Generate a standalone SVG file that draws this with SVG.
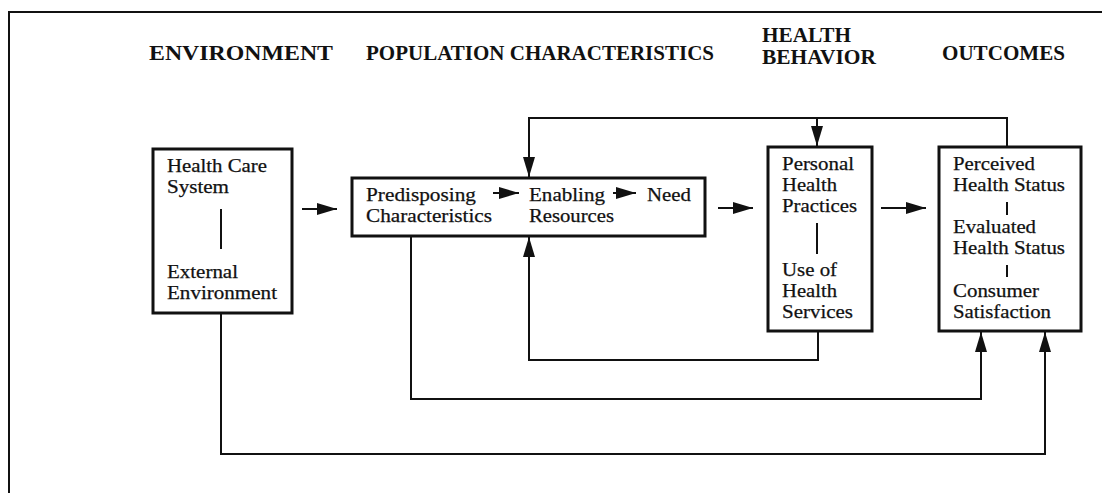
<svg xmlns="http://www.w3.org/2000/svg" width="1102" height="493" viewBox="0 0 1102 493">
<style>
.hd{font-family:"Liberation Serif","Times New Roman",serif;font-weight:bold;font-size:21px;fill:#111}
.tx{font-family:"Liberation Serif","Times New Roman",serif;font-size:18.5px;fill:#111;stroke:#111;stroke-width:0.25}
.box{fill:#fff;stroke:#111;stroke-width:3}
.ln{fill:none;stroke:#111;stroke-width:2}
.sep{fill:none;stroke:#111;stroke-width:2}
</style>
<defs>
<marker id="ah" markerUnits="userSpaceOnUse" markerWidth="20" markerHeight="12" refX="20" refY="6" orient="auto"><path d="M0,0 L20,6 L0,12 z" fill="#111"/></marker>
</defs>
<rect width="1102" height="493" fill="#fff"/>
<path class="ln" d="M9,493 V12 H1102" stroke-width="2.5"/>
<g id="headers">
<text class="hd" x="149" y="60" textLength="184" lengthAdjust="spacingAndGlyphs">ENVIRONMENT</text>
<text class="hd" x="366" y="60" textLength="348" lengthAdjust="spacingAndGlyphs">POPULATION CHARACTERISTICS</text>
<text class="hd" x="762" y="42" textLength="89" lengthAdjust="spacingAndGlyphs">HEALTH</text>
<text class="hd" x="762" y="64" textLength="114" lengthAdjust="spacingAndGlyphs">BEHAVIOR</text>
<text class="hd" x="942" y="60" textLength="123" lengthAdjust="spacingAndGlyphs">OUTCOMES</text>
</g>
<g id="environment">
<rect class="box" x="153" y="149" width="139" height="164"/>
<text class="tx" x="167" y="172" textLength="100" lengthAdjust="spacingAndGlyphs">Health Care</text>
<text class="tx" x="167" y="193" textLength="62" lengthAdjust="spacingAndGlyphs">System</text>
<line class="sep" x1="221" y1="209" x2="221" y2="249"/>
<text class="tx" x="167" y="278" textLength="71" lengthAdjust="spacingAndGlyphs">External</text>
<text class="tx" x="167" y="299" textLength="110" lengthAdjust="spacingAndGlyphs">Environment</text>
</g>
<g id="population">
<rect class="box" x="352" y="178" width="353" height="58"/>
<text class="tx" x="366" y="201" textLength="110" lengthAdjust="spacingAndGlyphs">Predisposing</text>
<text class="tx" x="366" y="222" textLength="126" lengthAdjust="spacingAndGlyphs">Characteristics</text>
<text class="tx" x="529" y="201" textLength="76" lengthAdjust="spacingAndGlyphs">Enabling</text>
<text class="tx" x="529" y="222" textLength="85" lengthAdjust="spacingAndGlyphs">Resources</text>
<text class="tx" x="647" y="201" textLength="44" lengthAdjust="spacingAndGlyphs">Need</text>
</g>
<g id="health-behavior">
<rect class="box" x="768" y="147" width="104" height="184"/>
<text class="tx" x="782" y="170" textLength="72" lengthAdjust="spacingAndGlyphs">Personal</text>
<text class="tx" x="782" y="191" textLength="55" lengthAdjust="spacingAndGlyphs">Health</text>
<text class="tx" x="782" y="212" textLength="75" lengthAdjust="spacingAndGlyphs">Practices</text>
<line class="sep" x1="817" y1="223" x2="817" y2="254"/>
<text class="tx" x="782" y="276" textLength="55" lengthAdjust="spacingAndGlyphs">Use of</text>
<text class="tx" x="782" y="297" textLength="55" lengthAdjust="spacingAndGlyphs">Health</text>
<text class="tx" x="782" y="318" textLength="71" lengthAdjust="spacingAndGlyphs">Services</text>
</g>
<g id="outcomes">
<rect class="box" x="939" y="147" width="142" height="184"/>
<text class="tx" x="953" y="170" textLength="82" lengthAdjust="spacingAndGlyphs">Perceived</text>
<text class="tx" x="953" y="191" textLength="112" lengthAdjust="spacingAndGlyphs">Health Status</text>
<line class="sep" x1="1007" y1="202" x2="1007" y2="215"/>
<text class="tx" x="953" y="233" textLength="83" lengthAdjust="spacingAndGlyphs">Evaluated</text>
<text class="tx" x="953" y="254" textLength="112" lengthAdjust="spacingAndGlyphs">Health Status</text>
<line class="sep" x1="1007" y1="265" x2="1007" y2="277"/>
<text class="tx" x="953" y="297" textLength="86" lengthAdjust="spacingAndGlyphs">Consumer</text>
<text class="tx" x="953" y="318" textLength="98" lengthAdjust="spacingAndGlyphs">Satisfaction</text>
</g>
<g id="connectors">
<path class="ln" d="M302,209 H337" marker-end="url(#ah)"/>
<path class="ln" d="M493,193 H519" marker-end="url(#ah)"/>
<path class="ln" d="M613,193 H636" marker-end="url(#ah)"/>
<path class="ln" d="M718,208 H753" marker-end="url(#ah)"/>
<path class="ln" d="M881,208 H926" marker-end="url(#ah)"/>
<path class="ln" d="M1007,147 V118 H529 V177" marker-end="url(#ah)"/>
<path class="ln" d="M817,118 V146" marker-end="url(#ah)"/>
<path class="ln" d="M818,332 V360 H529 V237" marker-end="url(#ah)"/>
<path class="ln" d="M411,237 V399 H981 V332" marker-end="url(#ah)"/>
<path class="ln" d="M221,314 V454 H1045 V332" marker-end="url(#ah)"/>
</g>
</svg>
